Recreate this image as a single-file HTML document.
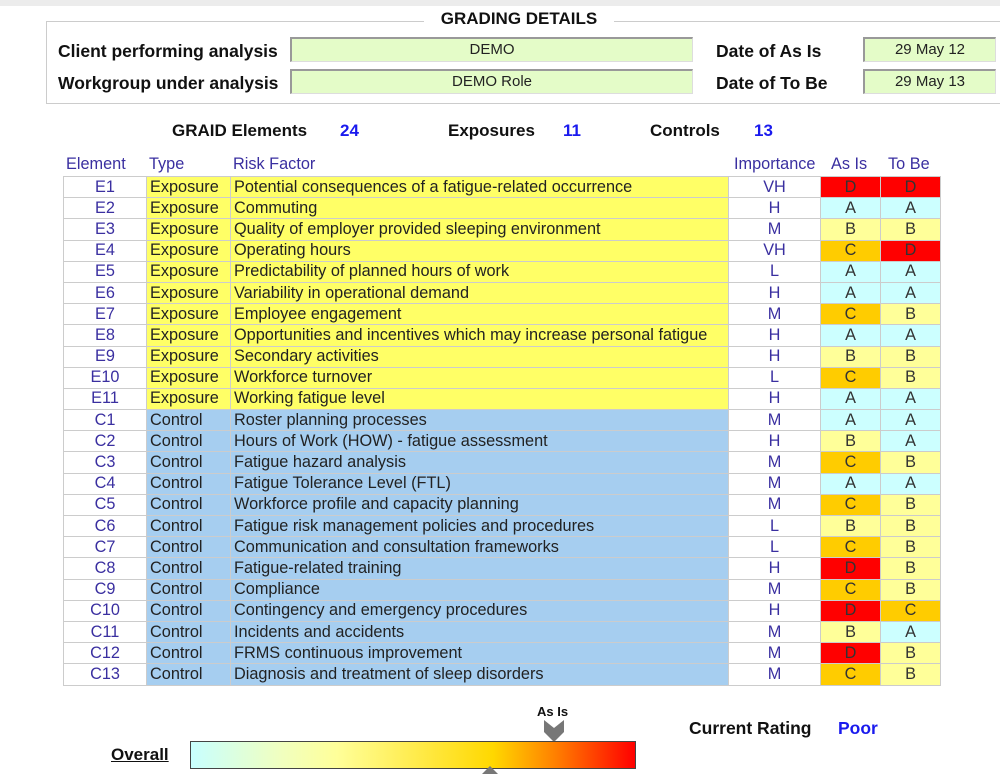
<!DOCTYPE html>
<html><head><meta charset="utf-8"><style>
body{margin:0;width:1000px;height:773px;background:#fff;font-family:"Liberation Sans",Arial,sans-serif;position:relative;overflow:hidden}
.a{position:absolute}
.b{font-weight:bold;color:#111}
.fld{position:absolute;background:#e4fcc8;border-top:2px solid #999;border-left:2px solid #999;border-bottom:1px solid #ddd;border-right:1px solid #ddd;font-size:15px;text-align:center;box-sizing:border-box;color:#222}
table{border-collapse:collapse;position:absolute;left:63px;top:176px;table-layout:fixed;font-size:16.3px}
td{border:1px solid #ccc;height:20.2px;padding:0 3px;line-height:19px;white-space:nowrap;overflow:hidden;color:#222}
.hd{position:absolute;top:155px;color:#3a2fa0;font-size:16.3px}
</style></head><body>
<div class="a" style="left:0;top:0;width:1000px;height:6px;background:#ececec"></div>
<div class="a" style="left:46px;top:21px;width:960px;height:83px;border:1px solid #ccc;box-sizing:border-box"></div>
<div class="a b" style="left:424px;top:9px;width:190px;background:#fff;text-align:center;font-size:17px">GRADING DETAILS</div>
<div class="a b" style="left:58px;top:41px;font-size:17.5px">Client performing analysis</div>
<div class="a b" style="left:58px;top:73px;font-size:17.5px">Workgroup under analysis</div>
<div class="fld" style="left:290px;top:37px;width:403px;height:25px;line-height:22px">DEMO</div>
<div class="fld" style="left:290px;top:69px;width:403px;height:25px;line-height:22px">DEMO Role</div>
<div class="a b" style="left:716px;top:41px;font-size:17.5px">Date of As Is</div>
<div class="a b" style="left:716px;top:73px;font-size:17.5px">Date of To Be</div>
<div class="fld" style="left:863px;top:37px;width:133px;height:25px;line-height:22px">29 May 12</div>
<div class="fld" style="left:863px;top:69px;width:133px;height:25px;line-height:22px">29 May 13</div>
<div class="a b" style="left:172px;top:121px;font-size:17px">GRAID Elements</div>
<div class="a b" style="left:340px;top:121px;font-size:17px;color:#1a1aee">24</div>
<div class="a b" style="left:448px;top:121px;font-size:17px">Exposures</div>
<div class="a b" style="left:563px;top:121px;font-size:17px;color:#1a1aee">11</div>
<div class="a b" style="left:650px;top:121px;font-size:17px">Controls</div>
<div class="a b" style="left:754px;top:121px;font-size:17px;color:#1a1aee">13</div>
<div class="hd" style="left:66px">Element</div>
<div class="hd" style="left:149px">Type</div>
<div class="hd" style="left:233px">Risk Factor</div>
<div class="hd" style="left:734px">Importance</div>
<div class="hd" style="left:831px">As Is</div>
<div class="hd" style="left:888px">To Be</div>
<table id="t"><colgroup><col style="width:83px"><col style="width:84px"><col style="width:498px"><col style="width:92px"><col style="width:60px"><col style="width:60px"></colgroup><tbody id="tb"></tbody></table>
<div class="a b" style="left:537px;top:704px;font-size:13px">As Is</div>
<svg class="a" style="left:544px;top:720px" width="20" height="22"><polygon points="0,0 10,8 20,0 20,12 10,22 0,12" fill="#777"/></svg>
<div class="a b" style="left:689px;top:718px;font-size:17.5px">Current Rating</div>
<div class="a b" style="left:838px;top:718px;font-size:17.5px;color:#1a1aee">Poor</div>
<div class="a b" style="left:111px;top:745px;font-size:17px;text-decoration:underline">Overall</div>
<div class="a" style="left:190px;top:741px;width:446px;height:28px;border:1px solid #444;box-sizing:border-box;background:linear-gradient(to right,#c8ffff 0%,#f0ffc0 20%,#ffff99 33%,#ffd800 68%,#ff8000 82%,#ff0000 100%)"></div>
<svg class="a" style="left:482px;top:766px" width="16" height="8"><polygon points="0,8 8,0 16,8" fill="#777"/></svg>
<script>
const ids=["E1","E2","E3","E4","E5","E6","E7","E8","E9","E10","E11","C1","C2","C3","C4","C5","C6","C7","C8","C9","C10","C11","C12","C13"];
const factors=["Potential consequences of a fatigue-related occurrence","Commuting","Quality of employer provided sleeping environment","Operating hours","Predictability of planned hours of work","Variability in operational demand","Employee engagement","Opportunities and incentives which may increase personal fatigue","Secondary activities","Workforce turnover","Working fatigue level","Roster planning processes","Hours of Work (HOW) - fatigue assessment","Fatigue hazard analysis","Fatigue Tolerance Level (FTL)","Workforce profile and capacity planning","Fatigue risk management policies and procedures","Communication and consultation frameworks","Fatigue-related training","Compliance","Contingency and emergency procedures","Incidents and accidents","FRMS continuous improvement","Diagnosis and treatment of sleep disorders"];
const importance=["VH","H","M","VH","L","H","M","H","H","L","H","M","H","M","M","M","L","L","H","M","H","M","M","M"];
const asIs=["D","A","B","C","A","A","C","A","B","C","A","A","B","C","A","C","B","C","D","C","D","B","D","C"];
const toBe=["D","A","B","D","A","A","B","A","B","B","A","A","A","B","A","B","B","B","B","B","C","A","B","B"];
const gradeColor={A:"#ccffff",B:"#ffff99",C:"#ffcc00",D:"#ff0000"};
const tb=document.getElementById('tb');
ids.forEach((id,i)=>{
  const exp=id[0]==="E";const bg=exp?"#ffff66":"#a6cef0";
  const tr=document.createElement('tr');
  
  
  const cells=[[id,"#fff","center","#3a2fa0"],[exp?"Exposure":"Control",bg,"left","#222"],[factors[i],bg,"left","#222"],[importance[i],"#fff","center","#3a2fa0"],[asIs[i],gradeColor[asIs[i]],"center","#333"],[toBe[i],gradeColor[toBe[i]],"center","#333"]];
  const nm=["element","type","risk-factor","importance","as-is","to-be"];
  cells.forEach((c,j)=>{
    const td=document.createElement('td');
    
    
    td.textContent=c[0];td.style.background=c[1];td.style.textAlign=c[2];td.style.color=c[3];
    tr.appendChild(td);
  });
  tb.appendChild(tr);
});
</script>
</body></html>
